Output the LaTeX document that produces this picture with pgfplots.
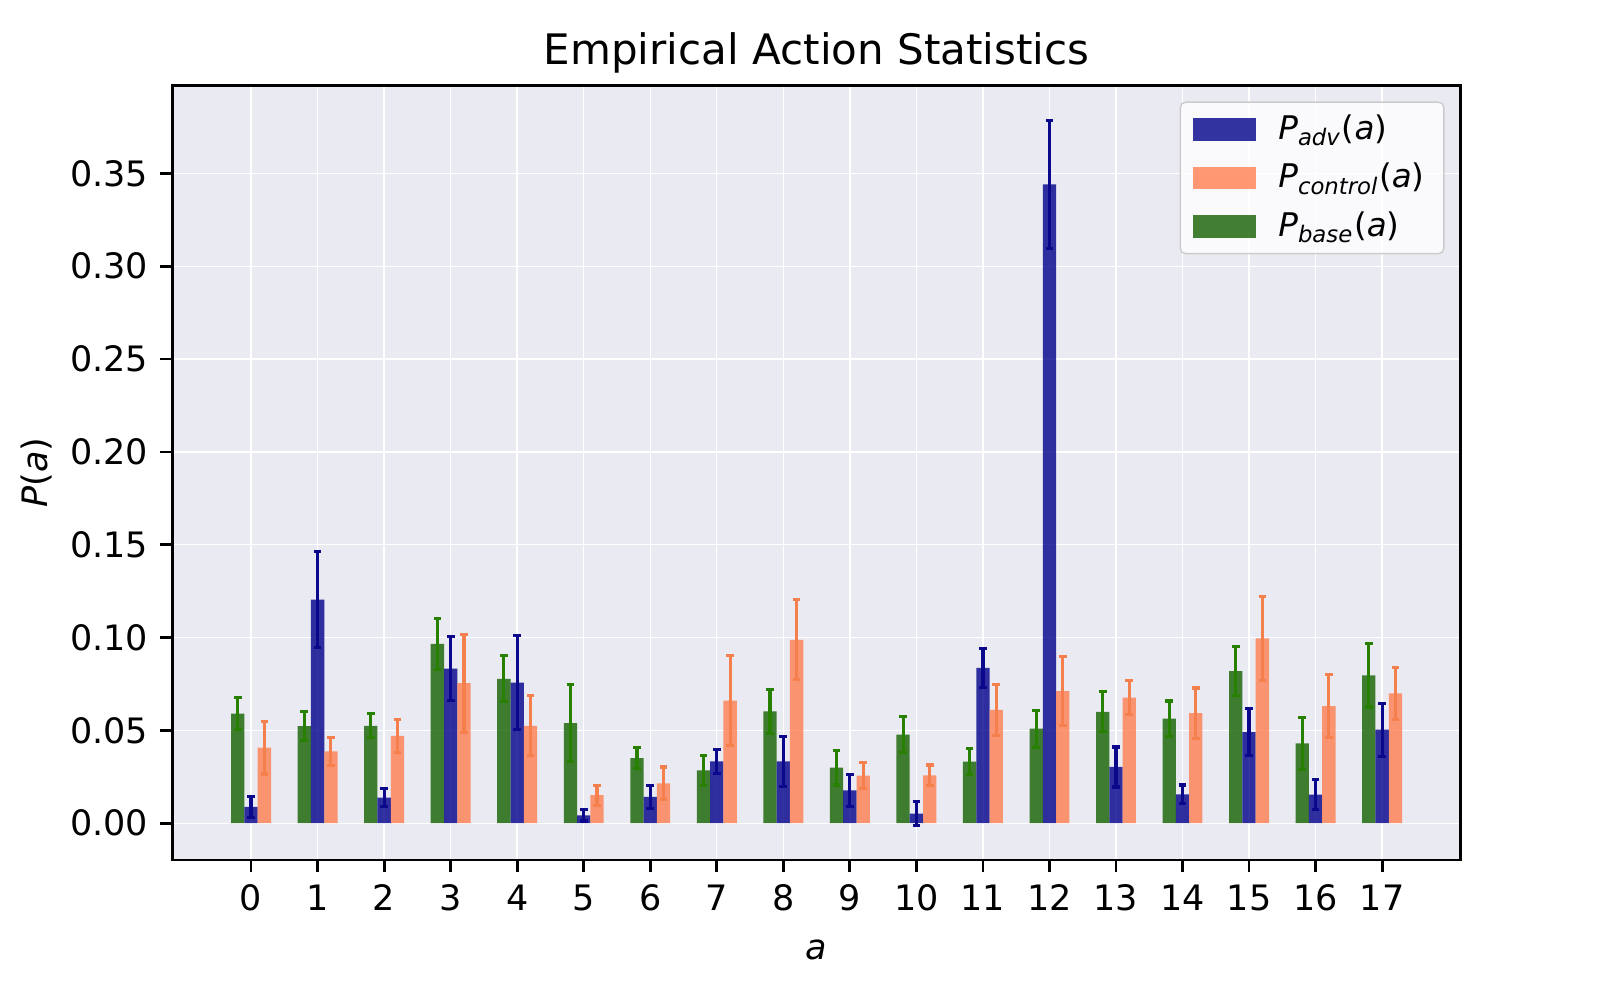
\documentclass[border=0pt]{standalone}
\usepackage{fontspec}
\setmainfont{DejaVu Sans}
\usepackage{pgfplots}
\pgfplotsset{compat=1.18}
\usepackage{pgfplotstable}

\definecolor{bgc}{RGB}{234,234,242}
\definecolor{advc}{RGB}{0,0,139}
\definecolor{conc}{RGB}{255,127,80}
\definecolor{basec}{RGB}{20,97,0}
\definecolor{adverr}{RGB}{12,8,140}
\definecolor{conerr}{RGB}{245,128,78}
\definecolor{baseerr}{RGB}{40,128,0}
\definecolor{legedge}{RGB}{204,204,204}

\pgfplotstableread{
x y e
0 0.0590 0.0086
1 0.0523 0.0077
2 0.0525 0.0064
3 0.0966 0.0139
4 0.0778 0.0124
5 0.0539 0.0208
6 0.0351 0.0058
7 0.0285 0.0081
8 0.0602 0.0120
9 0.0299 0.0093
10 0.0477 0.0097
11 0.0332 0.0071
12 0.0509 0.0099
13 0.0600 0.0108
14 0.0563 0.0095
15 0.0819 0.0131
16 0.0430 0.0141
17 0.0796 0.0170
}\basetab

\pgfplotstableread{
x y e
0 0.0088 0.0057
1 0.1204 0.0258
2 0.0138 0.0050
3 0.0833 0.0173
4 0.0758 0.0252
5 0.0043 0.0031
6 0.0142 0.0061
7 0.0333 0.0064
8 0.0333 0.0135
9 0.0177 0.0087
10 0.0052 0.0066
11 0.0837 0.0106
12 0.3441 0.0344
13 0.0303 0.0108
14 0.0156 0.0050
15 0.0491 0.0126
16 0.0154 0.0082
17 0.0504 0.0143
}\advtab

\pgfplotstableread{
x y e
0 0.0407 0.0142
1 0.0387 0.0076
2 0.0470 0.0088
3 0.0754 0.0264
4 0.0525 0.0162
5 0.0151 0.0054
6 0.0215 0.0088
7 0.0661 0.0241
8 0.0988 0.0216
9 0.0256 0.0071
10 0.0258 0.0056
11 0.0611 0.0137
12 0.0711 0.0185
13 0.0677 0.0090
14 0.0593 0.0135
15 0.0995 0.0226
16 0.0631 0.0168
17 0.0699 0.0138
}\contab

\pgfplotsset{
  legrect/.style={legend image code/.code={
    \path[draw=none, fill=#1, fill opacity=0.8, rounded corners=0pt] (0pt,-3.2pt) rectangle (18pt,3.2pt);
    \path[draw=none] (0pt,0pt) -- (22.5pt,0pt);}}
}

\begin{document}
\begin{tikzpicture}
\path[use as bounding box] (-49.3pt,-35.7pt) rectangle (412.1pt,245.7pt);
\begin{axis}[
  at={(0,0)}, anchor=south west,
  scale only axis, width=368pt, height=221.3pt,
  xmin=-1.18, xmax=18.18, ymin=-0.0198, ymax=0.3974,
  axis background/.style={fill=bgc},
  axis line style={line width=0.8pt},
  grid=major, major grid style={white, line width=0.4pt},
  xtick={0,1,2,3,4,5,6,7,8,9,10,11,12,13,14,15,16,17},
  ytick={0,0.05,0.10,0.15,0.20,0.25,0.30,0.35},
  tick align=outside, tick pos=left, major tick length=3.5pt,
  tick style={black, line width=0.8pt},
  ticklabel style={font=\fontsize{10}{12}\selectfont},
  /pgf/number format/assume math mode=true,
  yticklabel style={/pgf/number format/.cd, fixed, fixed zerofill, precision=2, assume math mode=true},
  xticklabel style={/pgf/number format/assume math mode=true},
  title={Empirical Action Statistics},
  every axis title/.style={font=\fontsize{12}{14}\selectfont, at={(rel axis cs:0.5,1)}, anchor=base, yshift=6pt},
  xlabel={\textit{a}},
  ylabel={\textit{P}(\textit{a})},
  xlabel style={font=\fontsize{10}{12}\selectfont, at={([yshift=-25.7pt]rel axis cs:0.5,0)}, anchor=center},
  ylabel style={font=\fontsize{10}{12}\selectfont, at={([xshift=-39pt]rel axis cs:0,0.5)}, anchor=center, rotate=0},
  legend style={at={([xshift=-4.6pt,yshift=-4.6pt]rel axis cs:1,1)}, anchor=north east,
    fill=white, fill opacity=0.8, text opacity=1, draw=legedge, rounded corners=1.5pt,
    font=\fontsize{9.3}{11}\selectfont, row sep=1.3pt, inner xsep=3.5pt, inner ysep=1.5pt},
  legend cell align=left,
]
\addlegendimage{legrect=advc}
\addlegendentry{\textit{P}\textsubscript{\textit{adv}}(\textit{a})}
\addlegendimage{legrect=conc}
\addlegendentry{\textit{P}\textsubscript{\textit{control}}(\textit{a})}
\addlegendimage{legrect=basec}
\addlegendentry{\textit{P}\textsubscript{\textit{base}}(\textit{a})}

\addplot[ybar, bar width=0.2, bar shift=0, fill=basec, fill opacity=0.8, draw=none, forget plot,
  error bars/.cd, y dir=both, y explicit,
  error bar style={draw=baseerr, line width=0.9pt, opacity=1},
  error mark options={rotate=90, draw=baseerr, mark size=1.1pt, line width=0.9pt}]
  table[x expr=\thisrow{x}-0.2, y=y, y error=e]{\basetab};
\addplot[ybar, bar width=0.2, bar shift=0, fill=advc, fill opacity=0.8, draw=none, forget plot,
  error bars/.cd, y dir=both, y explicit,
  error bar style={draw=adverr, line width=0.9pt, opacity=1},
  error mark options={rotate=90, draw=adverr, mark size=1.1pt, line width=0.9pt}]
  table[x=x, y=y, y error=e]{\advtab};
\addplot[ybar, bar width=0.2, bar shift=0, fill=conc, fill opacity=0.8, draw=none, forget plot,
  error bars/.cd, y dir=both, y explicit,
  error bar style={draw=conerr, line width=0.9pt, opacity=1},
  error mark options={rotate=90, draw=conerr, mark size=1.1pt, line width=0.9pt}]
  table[x expr=\thisrow{x}+0.2, y=y, y error=e]{\contab};
\end{axis}
\end{tikzpicture}
\end{document}
